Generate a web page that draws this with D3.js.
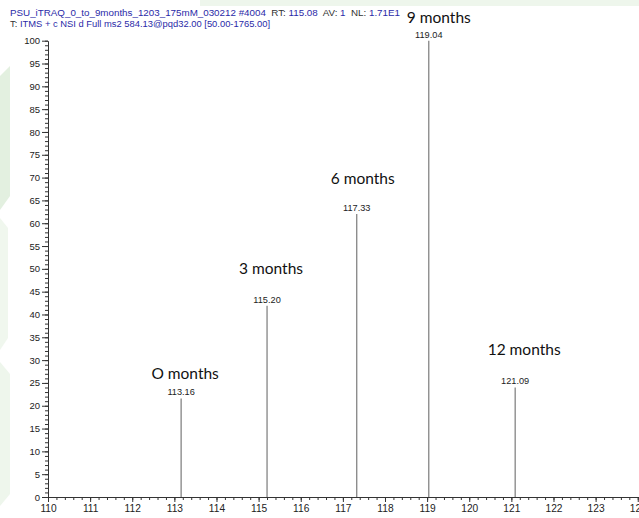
<!DOCTYPE html>
<html><head><meta charset="utf-8">
<script src="https://cdn.jsdelivr.net/npm/d3@7"></script>
<style>body{margin:0;background:#fff}svg{display:block}</style>
</head><body>
<svg id="c" width="639" height="518"></svg>
<script>
// ---- data ----
const peakMz = [113.16, 115.20, 117.33, 119.04, 121.09];
const peakIntensity = [21.6, 41.9, 62.0, 100, 24.0];
const peakLabels = ["113.16", "115.20", "117.33", "119.04", "121.09"];
const groupLabels = ["O months", "3 months", "6 months", "9 months", "12 months"];
const xTicks = [110,111,112,113,114,115,116,117,118,119,120,121,122,123,124];
const yTicks = [0,5,10,15,20,25,30,35,40,45,50,55,60,65,70,75,80,85,90,95,100];
const titleLine1 = [["PSU_iTRAQ_0_to_9months_1203_175mM_030212 #4004  ","#2a2aa8"],["RT: ","#333"],["115.08  ","#2a2aa8"],["AV: ","#333"],["1  ","#2a2aa8"],["NL: ","#333"],["1.71E1","#2a2aa8"]];
const titleLine2 = [["T: ","#333"],["ITMS + c NSI d Full ms2 584.13@pqd32.00 [50.00-1765.00]","#2a2aa8"]];

// ---- layout ----
const svg = d3.select("#c");
const x = d3.scaleLinear().domain([110, 124.03]).range([48, 639]);
const y = d3.scaleLinear().domain([0, 100]).range([497, 40.7]);
// label offsets (px) for group annotations
const groupOffset = [[4,-16],[4,-29],[6,-27],[10,-15],[9,-29]];

// background watermark
const bg = svg.append("g");
bg.append("rect").attr("x",200).attr("y",0).attr("width",439).attr("height",6).attr("fill","#eef6ec");
bg.append("polygon").attr("points","0,76 10,66 10,196 0,210").attr("fill","#e3f0e0");
bg.append("polygon").attr("points","0,218 8,228 8,338 0,350").attr("fill","#f0f7ee");
bg.append("polygon").attr("points","0,362 10,374 10,494 0,506").attr("fill","#eef6ec");

// title
function titleLine(parts, yy, len){
  const t = svg.append("text").attr("x",10).attr("y",yy)
    .attr("font-family","Liberation Sans, Arial, sans-serif").attr("font-size",9.6)
    .attr("textLength",len).attr("lengthAdjust","spacingAndGlyphs");
  parts.forEach(p=>t.append("tspan").attr("fill",p[1]).attr("xml:space","preserve").text(p[0]));
}
titleLine(titleLine1, 15.5, 390);
titleLine(titleLine2, 26.5, 260);

// axes
const axisColor = "#333";
const yMinor = d3.range(0, 101, 1);
const gy = svg.append("g").attr("transform","translate(48,0)");
gy.call(d3.axisLeft(y).tickValues(yMinor).tickSize(3).tickFormat(""));
gy.call(g=>g.select(".domain").remove());
const gy2 = svg.append("g").attr("transform","translate(48,0)");
gy2.call(d3.axisLeft(y).tickValues(yTicks).tickSize(6).tickSizeOuter(0).tickPadding(2).tickFormat(d3.format("d")));
gy2.selectAll("text").attr("font-family","Liberation Sans, Arial, sans-serif").attr("font-size",9.5).attr("fill","#222");

const xMinor = d3.range(0, 71).map(i=>110 + i*0.2);
const gx = svg.append("g").attr("transform","translate(0,497)");
gx.call(d3.axisBottom(x).tickValues(xMinor).tickSize(3).tickFormat(""));
gx.call(g=>g.select(".domain").remove());
const gx2 = svg.append("g").attr("transform","translate(0,497)");
gx2.call(d3.axisBottom(x).tickValues(xTicks).tickSize(5).tickSizeOuter(0).tickPadding(3).tickFormat(d3.format("d")));
gx2.selectAll("text").attr("font-family","Liberation Sans, Arial, sans-serif").attr("font-size",10.2).attr("fill","#222");
svg.selectAll(".tick line, .domain").attr("stroke",axisColor);

// peaks
const peaks = peakMz.map((m,i)=>({m, v:peakIntensity[i], lab:peakLabels[i], grp:groupLabels[i], off:groupOffset[i]}));
svg.append("g").selectAll("line").data(peaks).join("line")
  .attr("x1",d=>x(d.m)).attr("x2",d=>x(d.m))
  .attr("y1",y(0)).attr("y2",d=>y(d.v))
  .attr("stroke","#6e6e6e").attr("stroke-width",1.1);

svg.append("g").selectAll("text").data(peaks).join("text")
  .attr("x",d=>x(d.m)).attr("y",d=>y(d.v)-3)
  .attr("text-anchor","middle")
  .attr("font-family","Liberation Sans, Arial, sans-serif").attr("font-size",9.2).attr("fill","#222")
  .text(d=>d.lab);

svg.append("g").selectAll("text").data(peaks).join("text")
  .attr("x",d=>x(d.m)+d.off[0]).attr("y",d=>y(d.v)+d.off[1]-3)
  .attr("text-anchor","middle")
  .attr("font-family","Lato, 'Open Sans', sans-serif").attr("font-size",15.5).attr("fill","#111")
  .text(d=>d.grp);
</script>
</body></html>
